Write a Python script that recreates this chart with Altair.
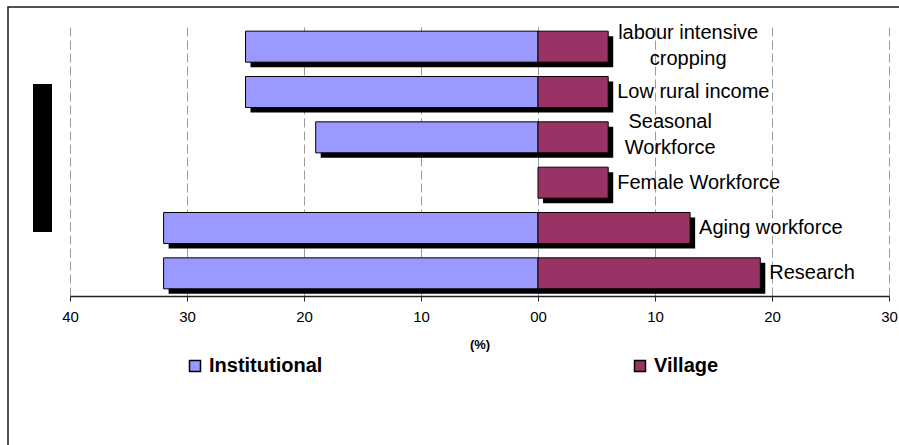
import altair as alt
import pandas as pd

# Survey categories, top to bottom
categories = [
    "labour intensive cropping",
    "Low rural income",
    "Seasonal Workforce",
    "Female Workforce",
    "Aging workforce",
    "Research",
]
# Text printed beside each row
row_labels = [
    "labour intensive\ncropping",
    "Low  rural income",
    "Seasonal\nWorkforce",
    "Female Workforce",
    "Aging workforce",
    "Research",
]
institutional = [25, 25, 19, 0, 32, 32]   # % (drawn to the left)
village = [6, 6, 6, 6, 13, 19]             # % (drawn to the right)
series = ["Institutional", "Village"]
series_colors = ["#9999FF", "#993366"]
tick_values = [-40, -30, -20, -10, 0, 10, 20, 30]

rows = []
for cat, a, b in zip(categories, institutional, village):
    if a:
        rows.append({"category": cat, "series": "Institutional", "value": -a, "zero": 0})
    rows.append({"category": cat, "series": "Village", "value": b, "zero": 0})
bars = pd.DataFrame(rows)

labels = pd.DataFrame({"category": categories, "label": row_labels, "value": village})

FONT = "Liberation Sans"

x_axis = alt.Axis(
    values=tick_values,
    labelExpr="datum.value == 0 ? '00' : '' + abs(datum.value)",
    grid=True, gridDash=[9, 4], gridColor="#9a9a9a", gridWidth=1,
    domainColor="#222222", domainWidth=1.5,
    tickColor="#222222", tickSize=5, tickWidth=1,
    labelFont=FONT, labelFontSize=15, labelColor="black", labelPadding=8,
    labelFlush=False, labelOverlap=False,
    title="(%)", titleFont=FONT, titleFontSize=13, titleFontWeight="bold",
    titleColor="black", titlePadding=14,
)
x_scale = alt.Scale(domain=[-40, 30], nice=False, zero=False)
y_enc = alt.Y("category:N", sort=categories,
              scale=alt.Scale(domain=categories, paddingInner=0, paddingOuter=0),
              axis=None)

one = alt.Data(values=[{}])

# outer frame and the dark block to the left of the plot
frame = alt.Chart(one).mark_rect(fillOpacity=0, stroke="#1a1a1a", strokeWidth=1.5).encode(
    x=alt.value(-62), x2=alt.value(840), y=alt.value(-17), y2=alt.value(440)
)
side_block = alt.Chart(one).mark_rect(color="black").encode(
    x=alt.value(-37), x2=alt.value(-18), y=alt.value(60), y2=alt.value(208)
)

# drop shadow behind each bar
shadow = alt.Chart(bars).mark_bar(
    color="black", size=31, xOffset=5, x2Offset=5, yOffset=5
).encode(
    x=alt.X("value:Q", scale=x_scale, axis=x_axis),
    x2="zero:Q",
    y=y_enc,
)

main = alt.Chart(bars).mark_bar(size=31, stroke="black", strokeWidth=1).encode(
    x=alt.X("value:Q", scale=x_scale, axis=x_axis),
    x2="zero:Q",
    y=y_enc,
    color=alt.Color(
        "series:N",
        scale=alt.Scale(domain=series, range=series_colors),
        legend=alt.Legend(
            title=None, orient="none", legendX=115, legendY=332,
            direction="horizontal", symbolType="square", symbolSize=121,
            symbolStrokeColor="black", symbolStrokeWidth=1.5,
            labelFont=FONT, labelFontSize=20, labelFontWeight="bold",
            labelColor="black", labelOffset=4, columnPadding=307,
        ),
    ),
)

text_style = dict(font=FONT, fontSize=20, color="black", baseline="middle")

single = alt.Chart(labels).transform_filter(
    "indexof(datum.label, '\\n') < 0"
).mark_text(align="left", dx=9, **text_style).encode(
    x=alt.X("value:Q", scale=x_scale, axis=x_axis), y=y_enc, text="label:N"
)

wrapped_a = alt.Chart(labels).transform_filter(
    alt.datum.category == categories[0]
).mark_text(align="center", dx=80, dy=-14, lineBreak="\n", lineHeight=26, **text_style).encode(
    x=alt.X("value:Q", scale=x_scale, axis=x_axis), y=y_enc, text="label:N"
)

wrapped_b = alt.Chart(labels).transform_filter(
    alt.datum.category == categories[2]
).mark_text(align="center", dx=62, dy=-15, lineBreak="\n", lineHeight=26, **text_style).encode(
    x=alt.X("value:Q", scale=x_scale, axis=x_axis), y=y_enc, text="label:N"
)

chart = alt.layer(
    frame, side_block, shadow, main, single, wrapped_a, wrapped_b
).properties(
    width=819, height=272,
    autosize=alt.AutoSizeParams(type="none"),
    padding={"left": 70, "top": 24, "right": 10, "bottom": 149},
    background="white",
).configure_view(stroke=None)

chart.save("out.html", embed_options={"renderer": "svg", "actions": False})
